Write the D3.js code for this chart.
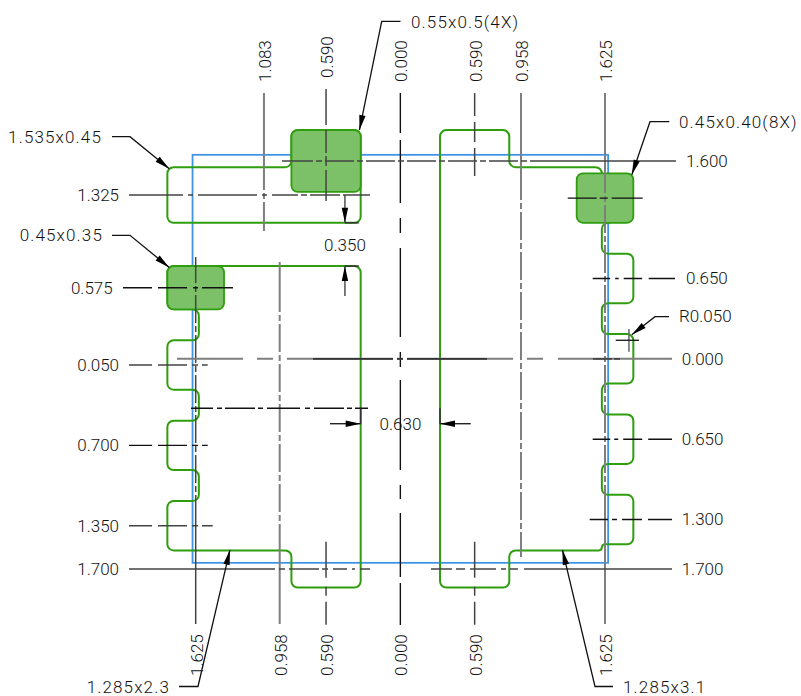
<!DOCTYPE html>
<html>
<head>
<meta charset="utf-8">
<script src="https://cdn.jsdelivr.net/npm/d3@7"></script>
<style>
  html, body { margin: 0; padding: 0; background: #fff; }
  svg { display: block; }
  text { font-family: Roboto, sans-serif; font-weight: 300; font-size: 17px; fill: #111; }
</style>
</head>
<body>
<svg id="chart" width="801" height="696"></svg>
<script>
// Footprint values in mm
const packageBox = [-1.65, 1.65, -1.65, 1.65];

const topTicks = [-1.083, -0.59, 0, 0.59, 0.958, 1.625];
const bottomTicks = [-1.625, -0.958, -0.59, 0, 0.59, 1.625];
const leftTicks = [1.325, 0.575, -0.05, -0.7, -1.35, -1.7];
const rightTicks = [1.6, 0.65, 0, -0.65, -1.3, -1.7];

// solid pads: x0, x1, y0, y1
const solidPads = [
  [-0.865, -0.315, 1.35, 1.85],
  [-1.85, -1.40, 0.40, 0.75],
  [1.40, 1.85, 1.10, 1.50]
];

// copper outlines
const outlineUpperLeft = [[-1.85, 1.55], [-0.865, 1.55], [-0.865, 1.85], [-0.315, 1.85], [-0.315, 1.10], [-1.85, 1.10]];
const outlineLowerLeft = [[-1.85, 0.75], [-0.315, 0.75], [-0.315, -1.85], [-0.865, -1.85], [-0.865, -1.55], [-1.85, -1.55],
  [-1.85, -1.15], [-1.60, -1.15], [-1.60, -0.90], [-1.85, -0.90], [-1.85, -0.50], [-1.60, -0.50], [-1.60, -0.25],
  [-1.85, -0.25], [-1.85, 0.15], [-1.60, 0.15], [-1.60, 0.40], [-1.85, 0.40]];
const outlineRight = [[0.315, 1.85], [0.865, 1.85], [0.865, 1.55], [1.60, 1.55], [1.60, 1.30], [1.70, 1.30], [1.70, 1.10], [1.60, 1.10],
  [1.60, 0.85], [1.85, 0.85], [1.85, 0.45], [1.60, 0.45], [1.60, 0.20], [1.85, 0.20], [1.85, -0.20], [1.60, -0.20],
  [1.60, -0.45], [1.85, -0.45], [1.85, -0.85], [1.60, -0.85], [1.60, -1.10], [1.85, -1.10], [1.85, -1.50], [1.60, -1.50],
  [1.60, -1.55], [0.865, -1.55], [0.865, -1.85], [0.315, -1.85]];

const leaderLabels = ["0.55x0.5(4X)", "1.535x0.45", "0.45x0.35", "0.45x0.40(8X)", "R0.050", "1.285x2.3", "1.285x3.1"];
const leaderTips = [[-0.325, 1.85], [-1.835, 1.537], [-1.835, 0.739], [1.838, 1.489], [1.838, 0.194], [-1.353, -1.545], [1.287, -1.545]];

// --- scales ---
const x = d3.scaleLinear().domain([-1.625, 1.625]).range([195.7, 605]);
const y = d3.scaleLinear().domain([-1.7, 1.6]).range([569, 161]);

const svg = d3.select("#chart");
const GREEN = "#2f9e0e", BLUE = "#3f94e6", PAD = "#7cc168";
const GRAY = { stroke: "#7f7f7f", w: 2 }, MID = { stroke: "#444", w: 1.5 }, DARK = { stroke: "#111", w: 1.4 };

// long-gap-short-gap centre line pattern
function centerDash(lead, n, tail, long = 28) {
  let d = [lead, 3, 6, 3];
  for (let i = 0; i < n; i++) d.push(long, 3, 6, 3);
  d.push(tail);
  return d.join(" ");
}

// outline with R0.050 corners
function rounded(points, closed) {
  const p = d3.path(), px = points.map(d => [x(d[0]), y(d[1])]), r = 6.3, n = px.length;
  const dist = (a, b) => Math.hypot(a[0] - b[0], a[1] - b[1]);
  const startAt = closed ? [(px[0][0] + px[n - 1][0]) / 2, (px[0][1] + px[n - 1][1]) / 2] : px[0];
  p.moveTo(startAt[0], startAt[1]);
  for (let i = closed ? 0 : 1; i < (closed ? n : n - 1); i++) {
    const a = px[i], prev = px[(i - 1 + n) % n], next = px[(i + 1) % n];
    p.arcTo(a[0], a[1], next[0], next[1], Math.min(r, dist(a, prev) / 2, dist(a, next) / 2));
  }
  if (closed) p.closePath(); else p.lineTo(px[n - 1][0], px[n - 1][1]);
  return p.toString();
}

// --- package outline ---
svg.append("rect")
  .attr("x", x(packageBox[0])).attr("y", y(packageBox[3]))
  .attr("width", x(packageBox[1]) - x(packageBox[0])).attr("height", y(packageBox[2]) - y(packageBox[3]))
  .attr("fill", "none").attr("stroke", BLUE).attr("stroke-width", 1.8);

// --- copper ---
[[outlineUpperLeft, true], [outlineLowerLeft, true], [outlineRight, true]].forEach(([pts, closed]) => {
  svg.append("path").attr("d", rounded(pts, closed))
    .attr("fill", "none").attr("stroke", GREEN).attr("stroke-width", 2);
});
solidPads.forEach(d => {
  svg.append("path")
    .attr("d", rounded([[d[0], d[3]], [d[1], d[3]], [d[1], d[2]], [d[0], d[2]]], true))
    .attr("fill", PAD).attr("stroke", GREEN).attr("stroke-width", 1.8);
});

// --- centre lines: position in mm, extent and dash along the line ---
const verticalLines = [
  { v: -1.083, from: 93, to: 232, dash: "97 3 6 3 29", s: GRAY },
  { v: -0.59, from: 89, to: 201, dash: "36 5 23 3 10 4 31", s: MID },
  { v: -0.59, from: 541.7, to: 625, dash: "36 9 9 6 23", s: MID },
  { v: 0, from: 93, to: 625, dash: "40 7 63 15 15 15 89 15 15 13 90 15 14 14 64 6 42", s: DARK },
  { v: 0.59, from: 93, to: 176, dash: "23 6 20 6 28", s: MID },
  { v: 0.59, from: 541.7, to: 625, dash: "36 9 9 6 23", s: MID },
  { v: 0.958, from: 93, to: 557, dash: centerDash(107, 8, 25), s: GRAY },
  { v: -0.958, from: 262, to: 624, dash: centerDash(50, 5, 100), s: GRAY },
  { v: 1.625, from: 93, to: 624, dash: centerDash(100, 7, 139), s: GRAY },
  { v: -1.625, from: 257, to: 624, dash: centerDash(26, 5, 129), s: MID }
];
const horizontalLines = [
  { v: 1.6, from: 282, to: 676, dash: centerDash(31, 5, 146, 29), s: MID },
  { v: 1.325, from: 129, to: 370.7, dash: "54 5 5 5 59 5 5 5 26 3 6 3 30 3 27", s: MID },
  { v: 1.3, from: 567.7, to: 642.7, dash: "29 3 8 4 31", s: DARK },
  { v: 0.575, from: 123, to: 233, dash: "29 6 29 6 5 4 31", s: DARK },
  { v: 0.65, from: 592.7, to: 675, dash: "17.5 5 3.5 5 18.5 6.5 26.7", s: DARK },
  { v: 0, from: 177, to: 672, dash: "66 14 16 14 106 4 6 4 106 14 16 15 114", s: GRAY },
  { v: 0, from: 313, to: 487, dash: "80 4 6 4 80", s: { stroke: "#333", w: 1.8 } },
  { v: 0, from: 593, to: 620, dash: "19 2 6", s: { stroke: "#444", w: 1.8 } },
  { v: -0.05, from: 129, to: 207.7, dash: "23 6 29 5 6 4 6", s: MID },
  { v: -0.4, from: 191, to: 368, dash: "22 4 5 3 30 3 5 4 33 5 5 4 30 3 5 3 13", s: DARK },
  { v: -0.65, from: 592.7, to: 672, dash: "17.5 4 4 5 19 6 24", s: DARK },
  { v: -0.7, from: 129, to: 207.7, dash: "23 6 29 5 6 4 6", s: DARK },
  { v: -1.3, from: 589.7, to: 672, dash: "18.3 4 5 5 20 6 24", s: DARK },
  { v: -1.35, from: 129, to: 212.7, dash: "23 6 29 5 6 4 11", s: MID },
  { v: -1.7, from: 129, to: 370, dash: "146 4 6 4 30 3 6 5 14 5 3 5 10", s: MID },
  { v: -1.7, from: 431, to: 672, dash: "21 4 9 5 26 5 5 4 8 6 148", s: MID }
];

verticalLines.forEach(d => {
  svg.append("line").attr("x1", x(d.v)).attr("x2", x(d.v)).attr("y1", d.from).attr("y2", d.to)
    .attr("stroke", d.s.stroke).attr("stroke-width", d.s.w).attr("stroke-dasharray", d.dash);
});
horizontalLines.forEach(d => {
  svg.append("line").attr("y1", y(d.v)).attr("y2", y(d.v)).attr("x1", d.from).attr("x2", d.to)
    .attr("stroke", d.s.stroke).attr("stroke-width", d.s.w).attr("stroke-dasharray", d.dash);
});

// --- tick labels ---
const fmt = v => Math.abs(v).toFixed(3);
topTicks.forEach(v => {
  svg.append("text").attr("transform", `translate(${x(v) + 1},${v === -0.59 ? 78 : 82}) rotate(-90)`).attr("dy", ".35em").text(fmt(v));
});
bottomTicks.forEach(v => {
  svg.append("text").attr("transform", `translate(${x(v) + 1},${676}) rotate(-90)`).attr("dy", ".35em").text(fmt(v));
});
leftTicks.forEach(v => {
  svg.append("text").attr("x", v === 0.575 ? 112.7 : 119).attr("y", y(v)).attr("dy", ".35em")
    .attr("text-anchor", "end").text(fmt(v));
});
rightTicks.forEach(v => {
  svg.append("text").attr("x", v === 1.6 || (v === 0.65) ? 686 : 681.7).attr("y", y(v)).attr("dy", ".35em").text(fmt(v));
});

// --- arrow helper ---
function arrowHead(tip, from, len = 15, half = 3.2) {
  const dx = from[0] - tip[0], dy = from[1] - tip[1], l = Math.hypot(dx, dy), ux = dx / l, uy = dy / l;
  const b = [tip[0] + ux * len, tip[1] + uy * len];
  svg.append("path")
    .attr("d", d3.line()([tip, [b[0] - uy * half, b[1] + ux * half], [b[0] + uy * half, b[1] - ux * half]]) + "Z")
    .attr("fill", "#000");
}

// --- leaders: shelf start, elbow and label anchor go with the tip ---
const leaderLayout = [
  { shelf: [400.5, 21.3], elbow: [381.7, 21.3], text: [411, 22], anchor: "start" },
  { shelf: [112, 136.7], elbow: [130, 136.7], text: [102, 137], anchor: "end" },
  { shelf: [112, 235.3], elbow: [130, 235.3], text: [103, 235.5], anchor: "end" },
  { shelf: [669.3, 121.7], elbow: [650, 121.7], text: [679, 122], anchor: "start" },
  { shelf: [669, 316.7], elbow: [655, 316.7], text: [679, 316.5], anchor: "start" },
  { shelf: [179, 686.5], elbow: [198, 686.5], text: [170, 686.7], anchor: "end" },
  { shelf: [613, 686.5], elbow: [595, 686.5], text: [623, 686.7], anchor: "start" }
];
leaderLabels.forEach((label, i) => {
  const l = leaderLayout[i], tip = [x(leaderTips[i][0]), y(leaderTips[i][1])];
  svg.append("path").attr("d", d3.line()([l.shelf, l.elbow, tip]))
    .attr("fill", "none").attr("stroke", "#111").attr("stroke-width", 1.3);
  arrowHead(tip, l.elbow);
  svg.append("text").attr("x", l.text[0]).attr("y", l.text[1]).attr("dy", ".35em")
    .attr("text-anchor", l.anchor).style("letter-spacing", label.includes("x") ? "1.15px" : null).text(label);
});

// --- R0.050 centre mark ---
svg.append("line").attr("x1", x(1.815)).attr("x2", x(1.815)).attr("y1", 329).attr("y2", 351.7)
  .attr("stroke", "#666").attr("stroke-width", 1.5);
svg.append("line").attr("x1", 615.7).attr("x2", 639).attr("y1", y(0.15)).attr("y2", y(0.15))
  .attr("stroke", "#111").attr("stroke-width", 1.3);

// --- dimensions 0.350 and 0.630 ---
const gapV = [1.10, 0.75], gapH = [-0.315, 0.315], dimX = -0.44, dimY = -0.525;
[[y(gapV[0]), y(1.325)], [y(gapV[1]), 296]].forEach(([tipY, endY]) => {
  svg.append("line").attr("x1", x(dimX)).attr("x2", x(dimX)).attr("y1", tipY).attr("y2", endY)
    .attr("stroke", "#444").attr("stroke-width", 1.4);
  arrowHead([x(dimX), tipY], [x(dimX), endY]);
  svg.append("line").attr("x1", x(dimX)).attr("x2", x(-0.33)).attr("y1", tipY).attr("y2", tipY)
    .attr("stroke", "#333").attr("stroke-width", 1.5);
});
svg.append("text").attr("x", x(dimX)).attr("y", 245).attr("dy", ".35em").attr("text-anchor", "middle").text("0.350");
[[x(gapH[0]), 330], [x(gapH[1]), 470.7]].forEach(([tipX, endX]) => {
  svg.append("line").attr("x1", tipX).attr("x2", endX).attr("y1", y(dimY)).attr("y2", y(dimY))
    .attr("stroke", "#111").attr("stroke-width", 1.3);
  arrowHead([tipX, y(dimY)], [endX, y(dimY)]);
  svg.append("line").attr("x1", tipX).attr("x2", tipX).attr("y1", y(-0.4)).attr("y2", y(dimY))
    .attr("stroke", "#333").attr("stroke-width", 1.5);
});
svg.append("text").attr("x", 400.5).attr("y", y(dimY)).attr("dy", ".35em").attr("text-anchor", "middle").text("0.630");
</script>
</body>
</html>
